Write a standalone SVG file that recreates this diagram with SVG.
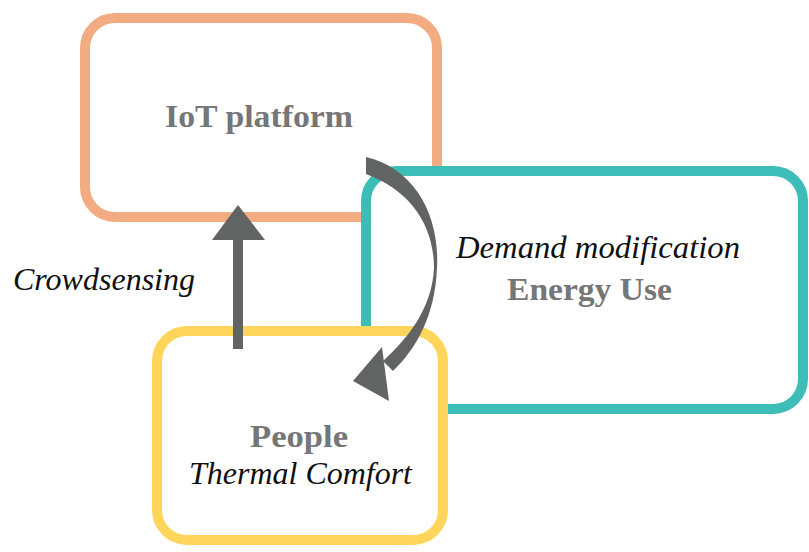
<svg xmlns="http://www.w3.org/2000/svg" width="809" height="552" viewBox="0 0 809 552">
  <style>
    .box { fill: #ffffff; stroke-width: 10; }
    .lbl { font-family: "Liberation Serif", "DejaVu Serif", serif; font-size: 31px; }
    .bold { font-weight: bold; fill: #767676; }
    .ital { font-style: italic; fill: #111111; }
    .arrow { fill: #626464; }
  </style>
  <rect width="809" height="552" fill="#ffffff"/>

  <g id="iot-platform">
    <rect class="box" x="85" y="18" width="352" height="199" rx="30" stroke="#F3AB82"/>
    <text class="lbl bold" x="165" y="127" textLength="188" lengthAdjust="spacingAndGlyphs">IoT platform</text>
  </g>

  <g id="energy-use">
    <rect class="box" x="366" y="171" width="437" height="238" rx="30" stroke="#3DBDB8"/>
    <text class="lbl ital" x="456" y="258" textLength="284" lengthAdjust="spacingAndGlyphs">Demand modification</text>
    <text class="lbl bold" x="507" y="300" textLength="165" lengthAdjust="spacingAndGlyphs">Energy Use</text>
  </g>

  <g id="people">
    <rect class="box" x="157" y="331" width="286" height="209" rx="30" stroke="#FFD55C"/>
    <text class="lbl bold" x="250" y="447" textLength="98" lengthAdjust="spacingAndGlyphs">People</text>
    <text class="lbl ital" x="189" y="484" textLength="223" lengthAdjust="spacingAndGlyphs">Thermal Comfort</text>
  </g>

  <g id="connectors">
    <!-- crowdsensing: people up to the platform -->
    <rect class="arrow" x="233" y="238" width="10" height="111"/>
    <polygon class="arrow" points="238,205 212,240 265,240"/>
    <text class="lbl ital" x="13" y="290" textLength="182" lengthAdjust="spacingAndGlyphs">Crowdsensing</text>
    <!-- demand modification: curved feedback from the platform to people, tapering through the middle -->
    <path class="arrow" d="M366,157 C414,168 440,215 437,268 C435,315 417,348 393,371 L383,361 C406,340 432,310 434,268 C434,225 410,190 366,174 Z"/>
    <polygon class="arrow" points="353,381 382,347 389,401"/>
  </g>
</svg>
